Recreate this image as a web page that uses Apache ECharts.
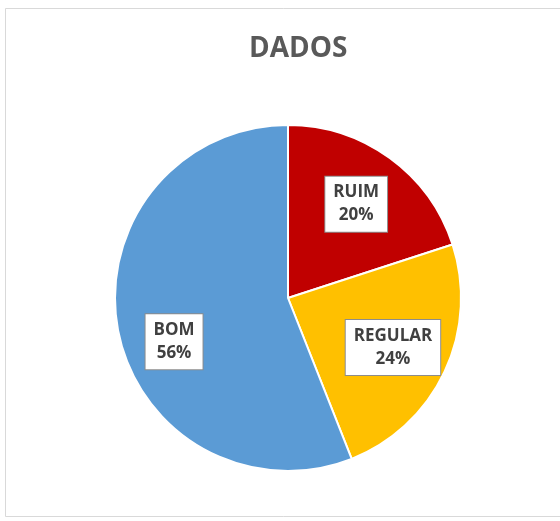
<!DOCTYPE html>
<html>
<head>
<meta charset="utf-8">
<script src="https://cdn.jsdelivr.net/npm/echarts@6/dist/echarts.min.js"></script>
<style>
  html, body { margin: 0; padding: 0; background: #fff; }
  #chart { width: 560px; height: 521px; }
</style>
</head>
<body>
<div id="chart"></div>
<script>
var titleText = 'DADOS';
var categories = ['RUIM', 'REGULAR', 'BOM'];
var values = [20, 24, 56];
var colors = ['#C00000', '#FFC000', '#5B9BD5'];

var pieData = [];
var labelData = [];
for (var i = 0; i < categories.length; i++) {
  pieData.push({ name: categories[i], value: values[i], itemStyle: { color: colors[i] } });
  labelData.push({ name: categories[i], value: values[i] });
}

var chart = echarts.init(document.getElementById('chart'));
var option = {
  backgroundColor: '#ffffff',
  animation: false,
  title: {
    text: titleText,
    left: 244,
    top: 30,
    textStyle: {
      fontFamily: 'Open Sans',
      fontWeight: 'bold',
      fontSize: 28,
      color: '#595959'
    }
  },
  graphic: [
    {
      type: 'rect',
      shape: { x: 5.5, y: 8.5, width: 570, height: 508 },
      style: { fill: 'none', stroke: '#d9d9d9', lineWidth: 1 },
      silent: true
    }
  ],
  series: [
    {
      type: 'pie',
      center: [288, 298],
      radius: [0, 173],
      startAngle: 90,
      clockwise: true,
      silent: true,
      label: { show: false },
      labelLine: { show: false },
      itemStyle: { borderColor: '#ffffff', borderWidth: 2 },
      data: pieData
    },
    {
      // transparent pie only used to place the labels
      type: 'pie',
      center: [288, 298],
      radius: [0, 226],
      startAngle: 90,
      clockwise: true,
      silent: true,
      z: 3,
      itemStyle: { color: 'rgba(0,0,0,0)' },
      labelLine: { show: false },
      label: {
        show: true,
        position: 'inside',
        formatter: '{b}\n{d}%',
        fontFamily: 'Open Sans',
        fontWeight: 'bold',
        fontSize: 17,
        lineHeight: 23,
        color: '#404040',
        backgroundColor: '#ffffff',
        borderColor: '#8c8c8c',
        borderWidth: 1,
        padding: [5, 8, 4, 8]
      },
      labelLayout: function (params) {
        // Excel "best fit" drops the big slice's label a bit lower
        if (params.dataIndex === 2) {
          return { dy: 22 };
        }
        return {};
      },
      data: labelData
    }
  ]
};
chart.setOption(option);
</script>
</body>
</html>
